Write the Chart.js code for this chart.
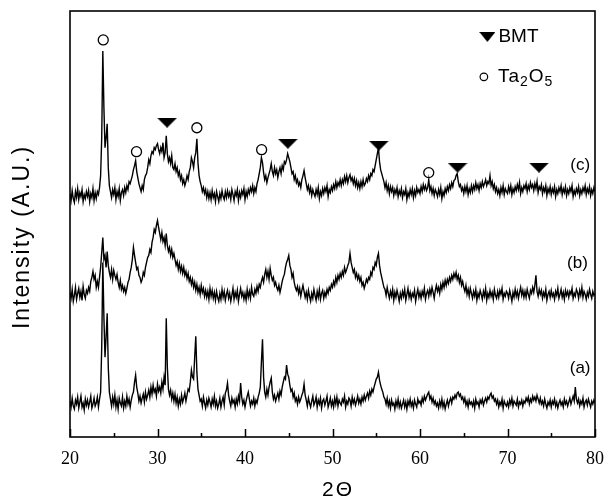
<!DOCTYPE html>
<html><head><meta charset="utf-8">
<script src="https://cdn.jsdelivr.net/npm/chart.js@4/dist/chart.umd.min.js"></script>
<style>html,body{margin:0;padding:0;background:#fff;}#wrap{width:612px;height:504px;}</style>
</head><body><div id="wrap"><canvas id="c" width="612" height="504"></canvas></div>
<script>
// 2θ sampling grid: 20.000 .. 80.000 every 0.125° (8 readings per degree, one row per degree)
const X_START = 20, X_STEP = 0.125;

// (a)
const seriesA = [
36,30,39,31,28,37,33,40,
29,35,41,30,34,27,38,32,
37,30,35,41,29,33,39,31,
34,40,30,38,45,90,175,120,
80,100,124,70,45,38,31,40,
33,42,30,37,28,39,34,31,
40,29,36,31,41,33,38,30,
37,42,45,55,62,50,44,36,
41,34,39,43,35,45,38,42,
47,40,50,43,52,45,48,41,
53,46,50,44,55,48,60,52,
119,70,48,42,47,38,44,36,
43,34,40,31,38,33,42,35,
39,44,36,42,48,46,55,67,
60,58,80,101,65,48,42,36,
38,31,40,34,29,37,32,39,
35,30,38,33,41,31,36,29,
33,39,30,36,40,32,44,47,
54,42,36,31,39,34,37,30,
38,33,41,36,54,40,33,37,
30,36,41,45,38,31,36,33,
39,31,37,34,40,44,50,75,
98,60,45,40,48,42,50,55,
59,45,38,42,36,40,44,38,
46,42,50,55,60,58,72,63,
60,52,46,48,40,44,36,39,
33,40,35,38,42,45,53,42,
37,31,39,34,30,36,41,32,
35,40,30,37,33,39,29,36,
38,32,36,41,30,34,39,31,
36,30,39,33,40,31,37,34,
32,38,35,41,30,36,33,39,
37,31,40,34,38,32,36,41,
34,38,33,40,36,42,37,41,
44,39,46,42,48,45,50,54,
58,60,65,57,52,48,45,40,
38,33,39,31,36,29,37,32,
34,28,36,31,38,30,35,29,
33,37,30,35,28,36,32,38,
31,35,29,37,33,30,38,34,
36,32,39,35,41,37,40,43,
45,38,41,35,39,33,36,31,
34,29,36,31,38,30,35,28,
33,37,31,36,39,34,40,38,
42,39,44,45,41,43,38,40,
35,39,32,36,30,37,33,35,
31,36,29,38,33,35,30,37,
34,38,32,36,39,35,40,38,
42,44,39,41,36,38,33,37,
30,35,32,38,29,36,33,31,
35,30,37,33,39,31,36,34,
32,38,30,35,33,37,31,36,
34,39,36,40,33,38,35,41,
37,40,36,42,38,34,39,33,
36,31,38,33,29,35,32,37,
30,36,33,38,31,35,29,34,
37,32,35,30,38,33,36,31,
35,39,33,37,41,36,50,38,
34,38,31,36,33,39,30,35,
37,32,38,34,30,36,33,37,
34];
// (b)
const seriesB = [
145,139,148,136,142,150,138,144,
149,140,146,137,151,143,139,147,
144,150,146,156,160,166,158,162,
150,156,150,160,170,185,200,178,
182,170,186,172,165,160,168,158,
167,162,158,163,155,150,157,148,
152,146,150,144,149,155,158,165,
170,178,190,182,175,168,170,162,
160,155,158,165,162,170,175,180,
182,188,185,195,200,208,205,212,
217,210,204,198,205,196,200,192,
204,192,186,190,182,188,180,184,
178,172,176,168,174,166,171,164,
170,162,166,159,164,156,160,153,
158,150,155,147,153,145,150,143,
152,145,149,141,147,140,146,138,
149,141,147,139,145,137,146,140,
136,144,138,148,140,146,137,143,
147,139,144,136,142,149,138,145,
140,147,136,143,149,141,145,138,
144,137,148,140,146,139,150,143,
141,148,144,151,146,153,150,156,
160,155,163,168,160,166,158,169,
162,157,160,152,155,150,147,152,
145,150,156,160,163,170,175,178,
182,172,168,160,164,155,150,147,
151,144,149,141,147,152,146,140,
145,138,147,141,136,144,139,148,
142,137,146,140,148,138,144,147,
139,145,141,148,144,150,147,153,
150,156,152,160,155,162,158,164,
160,166,162,170,165,168,172,175,
184,175,170,165,168,160,164,158,
162,156,160,152,155,149,153,158,
155,160,158,165,162,170,168,175,
172,180,184,172,165,160,155,150,
148,142,150,144,139,146,141,148,
137,145,140,147,142,136,144,139,
146,141,148,137,143,149,140,145,
138,144,141,147,136,143,148,140,
145,139,146,142,149,138,144,147,
141,148,143,150,145,139,147,152,
146,150,144,153,148,155,150,157,
152,158,154,160,156,162,158,164,
160,165,158,162,155,160,152,156,
150,146,152,143,148,141,149,144,
139,146,141,148,137,144,140,147,
143,138,146,141,149,137,144,140,
147,141,145,138,148,142,139,146,
140,147,143,149,138,144,141,146,
144,139,147,142,136,145,140,148,
141,146,139,145,150,142,147,140,
146,140,148,143,139,147,144,150,
145,152,162,146,141,148,143,147,
139,145,141,148,137,143,146,140,
147,141,144,138,146,142,149,139,
143,148,140,145,138,147,142,146,
140,146,143,149,139,144,141,148,
145,139,147,142,150,140,146,143,
138,145,141,148,143,139,146,142,
144];
// (c)
const seriesC = [
244,237,247,239,235,246,240,249,
238,245,241,248,236,243,239,246,
241,247,236,244,240,249,237,245,
239,246,243,250,262,300,387,330,
290,300,314,270,252,246,240,248,
243,250,238,246,241,249,237,245,
248,242,250,245,252,248,256,254,
258,262,268,272,277,266,260,254,
250,246,252,248,258,262,264,270,
278,274,282,286,284,290,288,292,
294,288,284,290,286,295,280,285,
302,284,276,280,274,282,270,268,
274,266,270,262,266,258,262,254,
258,252,256,262,258,266,270,280,
276,270,280,285,299,275,262,256,
252,246,250,244,248,240,246,239,
245,238,247,240,244,236,246,241,
236,244,239,247,241,238,246,240,
247,241,245,238,248,243,237,246,
242,248,237,245,240,247,243,249,
238,246,241,248,244,250,246,252,
244,250,246,254,258,264,270,280,
275,265,258,262,255,260,264,268,
274,266,262,270,264,268,260,266,
270,264,272,268,276,274,278,284,
280,276,270,264,266,258,262,255,
258,252,255,250,258,262,267,260,
254,248,252,245,250,242,248,244,
241,248,243,250,239,246,242,249,
244,250,246,252,241,248,245,251,
247,253,249,256,250,255,252,258,
252,258,254,261,256,262,255,260,
263,257,260,254,259,252,257,250,
255,249,256,251,258,252,254,259,
256,262,258,264,262,268,266,272,
278,284,290,276,268,264,260,256,
250,255,247,252,244,251,246,250,
242,248,244,250,241,247,243,249,
240,246,243,249,238,245,241,248,
243,249,240,247,242,250,245,248,
244,251,246,253,248,252,247,250,
258,247,251,244,249,242,248,245,
241,248,243,250,239,246,242,249,
245,251,247,253,249,255,251,257,
258,262,264,256,251,253,247,250,
244,251,246,252,243,249,245,252,
246,252,248,255,249,253,247,254,
250,256,251,254,258,252,256,254,
262,252,256,249,253,246,250,244,
248,242,250,245,252,243,249,246,
244,251,246,252,243,249,245,251,
247,253,248,255,244,250,246,252,
249,254,246,252,248,255,250,253,
247,254,249,256,245,251,248,253,
244,250,246,252,242,249,245,251,
243,249,245,251,241,248,244,250,
246,252,243,249,245,251,242,248,
244,250,246,252,241,247,243,249,
245,251,242,248,244,250,246,252,
243,249,245,251,242,248,244,250,
246];

// peak markers
const ta2o5Peaks = [23.8, 27.6, 34.5, 41.9, 61.0];
const ta2o5MarkY = [398, 286, 310, 288, 265];
const bmtPeaks = [31.1, 44.9, 55.3, 64.3, 73.6];
const bmtMarkY = [315, 294, 292, 270, 270];

// curve labels
const curveLabels = ['(a)', '(b)', '(c)'];
const curveLabelX = [78.3, 78.0, 78.3];
const curveLabelY = [69, 174, 272];

// legend
const legendNames = ['BMT', 'Ta2O5'];
const legendX = [67.7, 67.3];
const legendY = [401, 361];

// axis ticks
const xMajorTicks = [20, 30, 40, 50, 60, 70, 80];
const xMinorTicks = [25, 35, 45, 55, 65, 75];

function toXY(arr){ return arr.map((v,i)=>({x: X_START + i*X_STEP, y: v})); }
function pairs(xs, ys){ return xs.map((x,i)=>({x:x, y:ys[i]})); }

function triCanvas(w,h){
  const c=document.createElement('canvas'); c.width=w; c.height=h;
  const g=c.getContext('2d'); g.fillStyle='#000';
  g.beginPath(); g.moveTo(0,0); g.lineTo(w,0); g.lineTo(w/2,h); g.closePath(); g.fill();
  return c;
}
const triImg = triCanvas(20,10);

const lineDs = (arr)=>({type:'line', data: toXY(arr), borderColor:'#000', borderWidth:1.4, pointRadius:0, fill:false, tension:0});

const decor = {
  id:'decor',
  afterDatasetsDraw(chart){
    const {ctx, chartArea:a, scales:{x, y}} = chart;
    ctx.save();
    ctx.strokeStyle='#000'; ctx.lineWidth=1.5;
    ctx.beginPath();
    xMajorTicks.forEach(t=>{const px=Math.round(x.getPixelForValue(t))+0.5; ctx.moveTo(px,a.bottom); ctx.lineTo(px,a.bottom-8);});
    xMinorTicks.forEach(t=>{const px=Math.round(x.getPixelForValue(t))+0.5; ctx.moveTo(px,a.bottom); ctx.lineTo(px,a.bottom-4);});
    ctx.stroke();
    ctx.lineWidth=1.6;
    ctx.strokeRect(a.left, a.top, a.right-a.left, a.bottom-a.top);
    ctx.fillStyle='#000';
    ctx.font='17px "Liberation Sans", Arial, sans-serif';
    ctx.textAlign='center'; ctx.textBaseline='middle';
    curveLabels.forEach((s,i)=>ctx.fillText(s, x.getPixelForValue(curveLabelX[i]), y.getPixelForValue(curveLabelY[i])));
    ctx.textAlign='left';
    const lx0=x.getPixelForValue(legendX[0]), ly0=y.getPixelForValue(legendY[0]);
    ctx.drawImage(triImg, lx0-8, ly0-5, 16, 10);
    ctx.font='19px "Liberation Sans", Arial, sans-serif';
    ctx.fillText(legendNames[0], lx0+11, ly0);
    const lx1=x.getPixelForValue(legendX[1]), ly1=y.getPixelForValue(legendY[1]);
    ctx.beginPath(); ctx.lineWidth=1.2; ctx.arc(lx1, ly1, 3.8, 0, Math.PI*2); ctx.stroke();
    let cx=lx1+14;
    const big='19px "Liberation Sans", Arial, sans-serif', small='14px "Liberation Sans", Arial, sans-serif';
    const parts=[['Ta',big,0],['2',small,5],['O',big,0],['5',small,5]];
    ctx.letterSpacing='1px';
    parts.forEach(p=>{ctx.font=p[1]; ctx.fillText(p[0], cx, ly1+p[2]); cx+=ctx.measureText(p[0]).width;});
    ctx.letterSpacing='2px';
    ctx.font='21px "Liberation Sans", Arial, sans-serif';
    ctx.textAlign='center';
    ctx.fillText('2\u0398', 338, 490);
    ctx.font='23px "Liberation Sans", Arial, sans-serif';
    ctx.translate(23, 237);
    ctx.rotate(-Math.PI/2);
    ctx.fillText('Intensity (A.U.)', 0, 0);
    ctx.restore();
  }
};

new Chart(document.getElementById('c'), {
  type:'line',
  data:{datasets:[
    lineDs(seriesA), lineDs(seriesB), lineDs(seriesC),
    {type:'scatter', data: pairs(bmtPeaks, bmtMarkY), pointStyle: triImg, pointRadius:10, showLine:false},
    {type:'scatter', data: pairs(ta2o5Peaks, ta2o5MarkY), pointStyle:'circle', pointRadius:5, borderColor:'#000', borderWidth:1.3, backgroundColor:'#fff', showLine:false}
  ]},
  options:{
    responsive:false, animation:false, devicePixelRatio:1,
    layout:{padding:{left:0, right:17, top:10, bottom:0}},
    plugins:{legend:{display:false}, tooltip:{enabled:false}},
    scales:{
      x:{type:'linear', min:20, max:80,
         afterBuildTicks(s){ s.ticks = xMajorTicks.map(v=>({value:v})); },
         afterFit(s){ s.height=67; s.paddingLeft=0; s.paddingRight=0; },
         grid:{display:false, drawTicks:false}, border:{display:false},
         ticks:{padding:11, color:'#000', font:{family:'"Liberation Serif", "Times New Roman", serif', size:18}, maxRotation:0}},
      y:{min:0, max:427, display:true,
         afterFit(s){ s.width=70; },
         grid:{display:false, drawTicks:false}, border:{display:false},
         ticks:{display:false}}
    }
  },
  plugins:[decor]
});
</script></body></html>
